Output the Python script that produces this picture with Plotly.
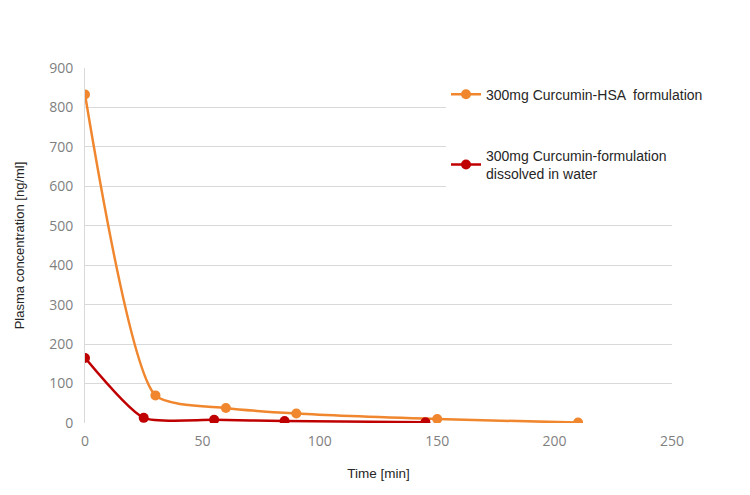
import plotly.graph_objects as go

hsa_time = [0, 30, 60, 90, 150, 210]
hsa_conc = [833, 70, 38, 24, 10, 1]
water_time = [0, 25, 55, 85, 145]
water_conc = [165, 13, 8, 5, 2]

x_ticks = [0, 50, 100, 150, 200, 250]
y_ticks = [0, 100, 200, 300, 400, 500, 600, 700, 800, 900]

fig = go.Figure()
fig.add_trace(go.Scatter(
    x=hsa_time, y=hsa_conc, mode="lines+markers",
    name="300mg Curcumin-HSA  formulation",
    line=dict(color="#F0862E", width=2.5, shape="spline", smoothing=0.6),
    marker=dict(color="#F0862E", size=10),
    legendgroup="a",
))
fig.add_trace(go.Scatter(
    x=water_time, y=water_conc, mode="lines+markers",
    name="300mg Curcumin-formulation<br>dissolved in water",
    line=dict(color="#C00000", width=2.5, shape="spline", smoothing=0.6),
    marker=dict(color="#C00000", size=10),
    legendgroup="b",
))

fig.update_layout(
    width=750, height=495,
    paper_bgcolor="white", plot_bgcolor="white",
    margin=dict(l=77, r=86, t=60, b=80),
    font=dict(family="Liberation Sans, Arial, sans-serif", color="#404040"),
    legend=dict(
        x=0.615, y=0.97, xanchor="left", yanchor="top",
        bgcolor="white", font=dict(size=14, color="#262626"),
        tracegroupgap=40, itemwidth=30,
    ),
    showlegend=True,
)
fig.update_xaxes(
    range=[0, 250], tickvals=x_ticks, showgrid=False, zeroline=False,
    showline=False, automargin=False, ticklabelstandoff=8,
    tickfont=dict(family="Open Sans, sans-serif", size=14, color="#7f7f7f"),
    title=dict(text="Time [min]", font=dict(size=13.5, color="#262626"), standoff=19),
    ticks="",
)
fig.update_yaxes(
    range=[0, 900], tickvals=y_ticks, showgrid=True, gridcolor="#d9d9d9",
    gridwidth=1, zeroline=False, showline=True, linecolor="#d9d9d9",
    automargin=False, ticklabelstandoff=8,
    tickfont=dict(family="Open Sans, sans-serif", size=14, color="#7f7f7f"),
    title=dict(text="Plasma concentration [ng/ml]", font=dict(size=13, color="#262626"), standoff=21),
    ticks="",
)

fig.write_html("out.html")
